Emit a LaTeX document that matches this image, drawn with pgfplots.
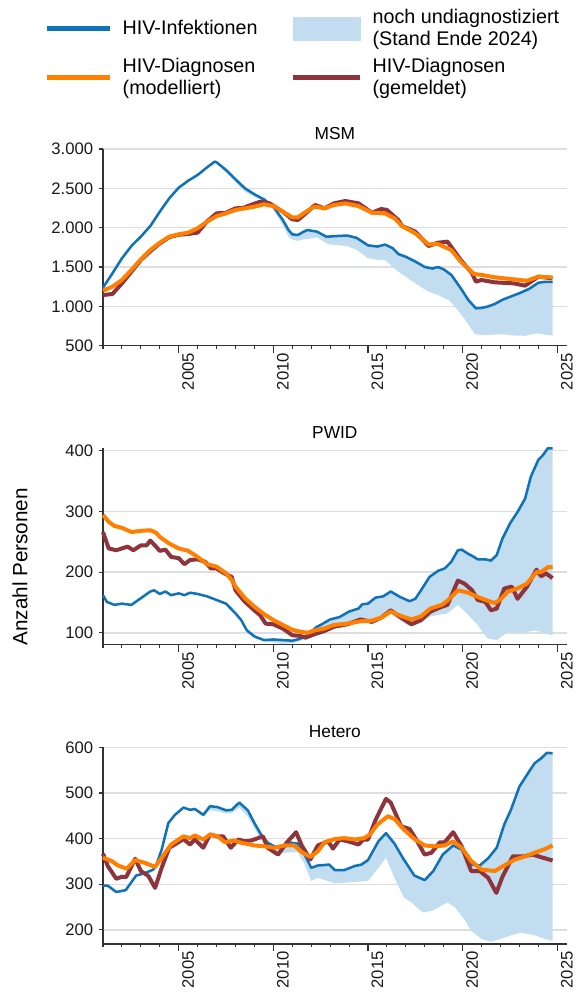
\documentclass[border=0pt]{standalone}
\usepackage{fontspec}
\setmainfont{Liberation Sans}
\usepackage{pgfplots}
\pgfplotsset{compat=1.18}
\usepackage{pgfplotstable}
\usepgfplotslibrary{fillbetween}

\definecolor{cblue}{RGB}{16,114,184}
\definecolor{corange}{RGB}{255,128,0}
\definecolor{cmaroon}{RGB}{142,52,60}
\definecolor{cfill}{RGB}{193,221,239}
\definecolor{caxis}{RGB}{51,51,51}

% ---------------- MSM ----------------
\pgfplotstableread{
x y
2001.0 1237
2001.5 1420
2002.0 1610
2002.5 1767
2003.0 1886
2003.5 2021
2004.0 2203
2004.5 2373
2005.0 2508
2005.5 2597
2006.0 2670
2006.5 2767
2006.9 2839
2007.0 2831
2007.5 2733
2008.0 2614
2008.5 2500
2009.0 2424
2009.5 2360
2010.0 2267
2010.5 2098
2010.8 1970
2011.0 1915
2011.3 1907
2011.6 1949
2011.8 1970
2012.0 1962
2012.3 1950
2012.8 1885
2013.3 1893
2013.9 1900
2014.4 1870
2015.0 1775
2015.5 1760
2015.9 1785
2016.3 1740
2016.6 1665
2017.0 1630
2017.5 1570
2018.0 1500
2018.4 1480
2018.7 1500
2019.0 1470
2019.4 1400
2019.9 1230
2020.3 1080
2020.7 975
2021.0 980
2021.3 995
2021.7 1030
2022.1 1083
2022.6 1130
2023.0 1167
2023.5 1220
2024.0 1300
2024.3 1310
2024.75 1310
}\msmblue

\pgfplotstableread{
x y
2001.0 1237
2001.5 1420
2002.0 1610
2002.5 1767
2003.0 1886
2003.5 2021
2004.0 2203
2004.5 2373
2005.0 2508
2005.5 2597
2006.0 2670
2006.5 2767
2006.9 2839
2007.0 2825
2007.5 2705
2008.0 2580
2008.5 2460
2009.0 2395
2009.5 2335
2010.0 2235
2010.5 2030
2010.8 1885
2011.0 1850
2011.3 1832
2011.6 1852
2012.0 1862
2012.3 1875
2012.9 1790
2013.9 1765
2014.4 1720
2015.0 1612
2015.5 1592
2015.9 1588
2016.6 1442
2017.5 1292
2018.2 1187
2018.7 1144
2019.3 1075
2019.95 890
2020.3 770
2020.65 646
2021.2 635
2022.1 646
2022.7 630
2023.3 625
2023.7 650
2024.0 655
2024.4 640
2024.75 630
}\msmlow

\pgfplotstableread{
x y
2001.0 1199
2001.5 1250
2002.0 1335
2002.5 1462
2003.0 1598
2003.5 1716
2004.0 1809
2004.5 1886
2005.0 1915
2005.5 1937
2006.0 1992
2006.5 2076
2007.0 2148
2007.5 2182
2008.0 2225
2008.5 2246
2009.0 2267
2009.5 2297
2010.0 2275
2010.5 2203
2011.0 2131
2011.3 2131
2011.6 2182
2012.0 2246
2012.2 2267
2012.7 2246
2013.2 2288
2013.8 2309
2014.5 2275
2015.2 2191
2015.9 2182
2016.4 2119
2016.8 2021
2017.5 1928
2018.2 1788
2018.7 1792
2019.4 1716
2019.9 1568
2020.6 1411
2021.0 1400
2021.7 1369
2022.7 1343
2023.4 1326
2024.0 1377
2024.75 1367
}\msmorange

\pgfplotstableread{
x y
2001.0 1144
2001.5 1157
2002.0 1292
2002.5 1440
2003.0 1590
2003.5 1700
2004.0 1800
2004.5 1880
2005.0 1910
2005.5 1920
2006.0 1937
2006.5 2080
2007.0 2182
2007.5 2190
2008.0 2246
2008.4 2250
2008.8 2288
2009.3 2330
2009.8 2309
2010.5 2203
2011.0 2106
2011.3 2098
2011.7 2180
2012.2 2288
2012.7 2246
2013.2 2309
2013.8 2339
2014.5 2309
2015.2 2191
2015.7 2237
2016.0 2225
2016.6 2098
2016.8 2021
2017.5 1949
2018.2 1767
2018.7 1809
2019.2 1822
2019.9 1589
2020.5 1420
2020.7 1314
2021.0 1335
2021.7 1305
2022.7 1292
2023.3 1263
2024.0 1377
2024.75 1356
}\msmmaroon

% ---------------- PWID ----------------
\pgfplotstableread{
x y
2001.0 162
2001.2 151
2001.6 146
2002.0 148
2002.5 146
2003.0 157
2003.5 168
2003.7 170
2004.0 164
2004.3 168
2004.6 162
2005.0 165
2005.3 162
2005.6 166
2006.0 164
2006.5 160
2007.0 154
2007.5 148
2008.0 132
2008.3 121
2008.6 104
2009.0 94
2009.5 88
2010.0 89
2010.5 88
2011.0 87
2011.4 90
2011.8 96
2012.0 102
2012.3 110
2012.5 113
2013.0 122
2013.5 126
2014.0 135
2014.5 140
2014.7 147
2015.0 148
2015.4 158
2015.8 160
2016.2 168
2016.7 159
2017.2 152
2017.5 156
2017.8 170
2018.25 192
2018.7 202
2019.05 206
2019.4 217
2019.75 236
2019.95 237
2020.3 230
2020.6 225
2020.8 221
2021.2 221
2021.5 219
2021.8 228
2022.1 255
2022.5 280
2022.9 299
2023.3 321
2023.6 357
2024.0 385
2024.25 393
2024.5 404
2024.75 404
}\pwidblue

\pgfplotstableread{
x y
2001.0 162
2001.2 151
2001.6 146
2002.0 148
2002.5 146
2003.0 157
2003.5 168
2003.7 170
2004.0 164
2004.3 168
2004.6 162
2005.0 165
2005.3 162
2005.6 166
2006.0 164
2006.5 160
2007.0 154
2007.5 148
2008.0 132
2008.3 121
2008.6 104
2009.0 93
2009.5 86
2010.0 84
2010.5 82
2011.0 83
2011.4 86
2011.8 94
2012.2 102
2013.0 110
2013.9 115
2015.0 121
2016.2 131
2016.7 120
2017.2 111
2017.8 116
2018.3 127
2019.2 132
2019.75 146
2020.3 129
2020.8 113
2021.3 91
2021.8 88
2022.4 102
2023.1 99
2023.8 104
2024.3 100
2024.75 96
}\pwidlow

\pgfplotstableread{
x y
2001.0 294
2001.3 283
2001.6 276
2002.0 273
2002.5 266
2003.0 268
2003.5 269
2003.8 265
2004.0 258
2004.5 247
2005.0 239
2005.5 235
2006.0 225
2006.5 213
2007.0 209
2007.5 198
2007.8 187
2008.0 176
2008.5 157
2009.0 143
2009.5 131
2010.0 121
2010.5 113
2011.0 105
2011.4 102
2011.8 100
2012.2 104
2012.7 107
2013.2 113
2013.9 115
2014.6 119
2015.2 120
2015.7 125
2016.2 135
2016.8 127
2017.3 122
2017.8 127
2018.3 140
2018.9 146
2019.2 153
2019.75 170
2020.3 166
2020.8 159
2021.3 153
2021.7 149
2022.0 155
2022.4 168
2022.9 173
2023.4 181
2023.9 200
2024.15 200
2024.5 208
2024.75 208
}\pwidorange

\pgfplotstableread{
x y
2001.0 266
2001.3 239
2001.7 236
2002.0 239
2002.3 242
2002.6 236
2003.0 244
2003.3 244
2003.5 252
2003.8 242
2004.0 235
2004.3 237
2004.6 225
2005.0 223
2005.3 213
2005.6 220
2006.0 221
2006.4 217
2006.7 206
2007.0 206
2007.4 198
2007.8 192
2008.0 170
2008.5 151
2009.0 137
2009.3 129
2009.6 115
2010.0 114
2010.5 107
2011.0 96
2011.4 95
2011.7 92
2012.2 98
2012.7 103
2013.2 110
2013.9 114
2014.6 122
2015.2 118
2015.7 125
2016.2 137
2016.8 124
2017.3 114
2017.8 121
2018.3 135
2018.9 143
2019.2 146
2019.75 186
2020.1 181
2020.5 170
2020.8 154
2021.2 151
2021.5 137
2021.8 140
2022.2 173
2022.6 176
2022.9 156
2023.4 176
2023.9 204
2024.15 193
2024.4 198
2024.75 190
}\pwidmaroon

% ---------------- Hetero ----------------
\pgfplotstableread{
x y
2001.0 297
2001.25 297
2001.7 283
2002.2 287
2002.75 319
2003.2 324
2003.65 332
2003.8 340
2004.1 376
2004.45 434
2004.8 452
2005.25 468
2005.6 463
2005.85 465
2006.3 452
2006.65 471
2007.05 469
2007.5 462
2007.8 463
2008.2 479
2008.65 462
2009.0 434
2009.35 409
2009.7 391
2010.05 383
2010.4 380
2010.95 391
2011.3 389
2011.65 365
2012.0 336
2012.35 341
2012.95 343
2013.25 331
2013.75 331
2014.3 340
2014.65 343
2015.0 353
2015.55 394
2015.95 412
2016.4 389
2016.85 357
2017.45 319
2018.0 309
2018.45 329
2018.95 365
2019.5 385
2019.95 376
2020.45 343
2020.9 341
2021.35 357
2021.8 380
2022.2 431
2022.55 463
2023.0 514
2023.45 543
2023.8 565
2024.15 576
2024.45 588
2024.75 587
}\hetblue

\pgfplotstableread{
x y
2001.0 297
2001.25 297
2001.7 283
2002.2 287
2002.75 319
2003.2 324
2003.65 332
2003.8 340
2004.1 376
2004.45 434
2004.8 452
2005.25 468
2005.6 462
2005.85 462
2006.3 448
2006.65 462
2007.05 460
2007.5 455
2007.8 456
2008.2 468
2008.65 448
2009.0 422
2009.35 398
2009.7 383
2010.05 374
2010.4 368
2010.95 370
2011.3 370
2011.65 343
2012.0 307
2012.35 314
2013.25 302
2014.3 305
2015.0 307
2015.55 336
2015.95 358
2016.4 314
2016.9 271
2017.3 260
2017.9 238
2018.4 242
2019.2 260
2019.6 249
2020.1 223
2020.45 198
2021.0 180
2021.5 174
2022.0 180
2022.55 188
2023.1 194
2023.8 188
2024.35 180
2024.75 176
}\hetlow

\pgfplotstableread{
x y
2001.0 358
2001.45 351
2001.8 341
2002.25 334
2002.7 353
2003.2 347
2003.75 338
2004.1 358
2004.6 387
2005.25 405
2005.6 401
2005.85 407
2006.3 398
2006.65 409
2007.05 405
2007.45 392
2007.9 396
2008.3 391
2009.0 385
2009.55 383
2010.05 380
2010.6 385
2011.1 385
2011.55 369
2011.95 360
2012.35 372
2012.7 392
2013.25 399
2013.75 401
2014.3 398
2014.8 401
2015.1 409
2015.5 431
2016.05 449
2016.4 443
2016.9 420
2017.45 399
2018.0 385
2018.5 383
2019.05 385
2019.5 394
2019.95 380
2020.45 351
2021.0 332
2021.7 329
2022.2 341
2022.75 354
2023.3 361
2023.8 369
2024.35 377
2024.75 385
}\hetorange

\pgfplotstableread{
x y
2001.0 367
2001.25 340
2001.7 312
2001.97 316
2002.23 316
2002.7 356
2003.0 329
2003.4 318
2003.75 292
2004.1 336
2004.5 380
2004.95 391
2005.25 399
2005.6 387
2005.85 398
2006.3 380
2006.65 409
2007.0 405
2007.35 405
2007.75 380
2008.15 398
2008.5 394
2008.85 396
2009.45 405
2009.7 380
2010.25 365
2010.7 391
2011.2 414
2011.5 385
2011.95 354
2012.35 385
2012.9 394
2013.15 378
2013.5 398
2013.95 394
2014.5 387
2014.75 398
2015.0 398
2015.4 441
2015.95 487
2016.2 479
2016.75 427
2017.2 421
2017.55 398
2017.99 365
2018.35 369
2018.8 392
2019.05 392
2019.5 414
2019.95 383
2020.45 329
2020.9 329
2021.35 314
2021.78 281
2022.1 316
2022.65 361
2023.2 361
2023.7 365
2024.25 358
2024.75 352
}\hetmaroon

\pgfplotsset{
  panel/.style={
    scale only axis, width=347.8pt, height=147.5pt,
    xmin=2001, xmax=2025.5,
    axis x line*=bottom, axis y line*=left,
    axis line style={caxis, line width=0.8pt},
    xtick={2005,2010,2015,2020,2025},
    minor xtick={2001,2002,...,2025},
    tick align=outside,
    major tick length=5.25pt, minor tick length=2.5pt,
    tick style={caxis, line width=0.8pt},
    ytick style={/pgfplots/major tick length=3pt},
    ymajorgrids, major grid style={black!13, line width=1.1pt},
    tick label style={font=\fontsize{12.5}{15}\selectfont, text=black!90},
    /pgf/number format/assume math mode=true,
    /pgf/number format/1000 sep={.},
    xticklabel style={rotate=90, anchor=north east, inner xsep=0pt, inner ysep=2.5pt, /pgf/number format/1000 sep={}},
    yticklabel style={inner xsep=2pt},
    title style={font=\fontsize{13}{15}\selectfont, at={(0.5,1)}, anchor=base, yshift=1.4pt},
    clip=false,
  },
  bl/.style={cblue, line width=1.9pt, line join=round, forget plot},
  og/.style={corange, line width=3pt, line join=round, forget plot},
  mr/.style={cmaroon, line width=3pt, line join=round, forget plot},
  hid/.style={draw=none, forget plot},
}

\begin{document}
\begin{tikzpicture}
% ---------- MSM ----------
\begin{axis}[panel, at={(77.25pt,-111.75pt)}, anchor=north west,
  title={MSM}, ymin=500, ymax=3000, ytick={500,1000,...,3000},
  legend columns=2,
  legend cell align=left,
  legend style={at={(-0.1272,1.488)}, anchor=west, draw=none, fill=none,
    inner sep=0pt, font=\fontsize{14.8}{16.3}\selectfont,
    cells={align=left}, nodes={inner sep=0pt}, row sep=8pt,
    /tikz/every odd column/.append style={column sep=7.5pt},
    /tikz/every even column/.append style={column sep=25pt}},
]
\addlegendimage{legend image code/.code={\draw[cblue, line width=3.3pt] (0pt,0pt) -- (47.5pt,0pt);}}
\addlegendentry{HIV-Infektionen}
\addlegendimage{legend image code/.code={\fill[cfill] (0pt,-8.5pt) rectangle (50pt,8.5pt);}}
\addlegendentry{noch undiagnostiziert\\(Stand Ende 2024)}
\addlegendimage{legend image code/.code={\draw[corange, line width=3.8pt] (0pt,0pt) -- (47.5pt,0pt);}}
\addlegendentry{HIV-Diagnosen\\(modelliert)}
\addlegendimage{legend image code/.code={\draw[cmaroon, line width=3.8pt] (0pt,0pt) -- (50pt,0pt);}}
\addlegendentry{HIV-Diagnosen\\(gemeldet)}
\addplot[hid, name path=mU] table[x=x,y=y] {\msmblue};
\addplot[hid, name path=mL] table[x=x,y=y] {\msmlow};
\addplot[cfill, forget plot] fill between[of=mU and mL];
\addplot[bl] table[x=x,y=y] {\msmblue};
\addplot[mr] table[x=x,y=y] {\msmmaroon};
\addplot[og] table[x=x,y=y] {\msmorange};
\end{axis}

% ---------- PWID ----------
\begin{axis}[panel, at={(77.25pt,-336.2pt)}, anchor=north west,
  title={PWID}, ymin=80, ymax=404, ytick={100,200,300,400},
  ylabel={Anzahl Personen},
  ylabel style={at={(axis description cs:-0.179,0.397)}, anchor=center, font=\fontsize{15.5}{17}\selectfont},
]
\addplot[hid, name path=pU] table[x=x,y=y] {\pwidblue};
\addplot[hid, name path=pL] table[x=x,y=y] {\pwidlow};
\addplot[cfill, forget plot] fill between[of=pU and pL];
\addplot[bl] table[x=x,y=y] {\pwidblue};
\addplot[mr] table[x=x,y=y] {\pwidmaroon};
\addplot[og] table[x=x,y=y] {\pwidorange};
\end{axis}

% ---------- Hetero ----------
\begin{axis}[panel, at={(77.25pt,-560.5pt)}, anchor=north west,
  title={Hetero}, ymin=169, ymax=600, ytick={200,300,...,600},
]
\addplot[hid, name path=hU] table[x=x,y=y] {\hetblue};
\addplot[hid, name path=hL] table[x=x,y=y] {\hetlow};
\addplot[cfill, forget plot] fill between[of=hU and hL];
\addplot[bl] table[x=x,y=y] {\hetblue};
\addplot[mr] table[x=x,y=y] {\hetmaroon};
\addplot[og] table[x=x,y=y] {\hetorange};
\end{axis}

\pgfresetboundingbox
\path (0pt,0pt) rectangle (432pt,-747pt);
\end{tikzpicture}
\end{document}
